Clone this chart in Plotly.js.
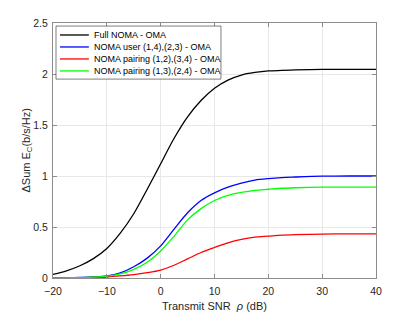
<!DOCTYPE html>
<html><head><meta charset="utf-8">
<script src="https://cdn.plot.ly/plotly-3.0.1.min.js"></script>
<style>html,body{margin:0;padding:0;background:#fff;}#chart{width:415px;height:312px;}</style>
</head><body><div id="chart"></div>
<script>
const snr = [-20,-17.5,-15,-12.5,-10,-7.5,-5,-2.5,0,2.5,5,7.5,10,12.5,15,17.5,20,22.5,25,30,35,40];
const fullNoma = [0.035,0.07,0.12,0.19,0.29,0.44,0.63,0.87,1.12,1.37,1.58,1.74,1.86,1.94,1.99,2.015,2.03,2.035,2.04,2.045,2.045,2.045];
const userPair = [0.0,0.002,0.005,0.01,0.02,0.05,0.11,0.195,0.315,0.48,0.64,0.76,0.835,0.89,0.93,0.96,0.975,0.985,0.99,0.998,1.0,1.0];
const pair1234 = [0.0,0.001,0.002,0.005,0.01,0.02,0.033,0.052,0.078,0.125,0.187,0.25,0.30,0.345,0.378,0.40,0.41,0.42,0.425,0.43,0.433,0.433];
const pair1324 = [0.0,0.002,0.004,0.009,0.018,0.04,0.085,0.155,0.265,0.41,0.57,0.68,0.76,0.81,0.84,0.86,0.87,0.88,0.885,0.89,0.89,0.89];
const names = ['Full NOMA - OMA','NOMA user (1,4),(2,3) - OMA','NOMA pairing (1,2),(3,4) - OMA','NOMA pairing (1,3),(2,4) - OMA'];
const series = [fullNoma, userPair, pair1234, pair1324];
const colors = ['#000000','#0000ff','#ff0000','#00ff00'];
const xTicks = [-20,-10,0,10,20,30,40];
const yTicks = [0,0.5,1,1.5,2,2.5];
const xTitle = 'Transmit SNR  <i>ρ</i> (dB)';
const yTitle = 'ΔSum E<sub>C</sub>(b/s/Hz)';

const traces = series.map((s,i)=>({x:snr,y:s,name:names[i],type:'scatter',mode:'lines',
  line:{color:colors[i],width:1.3,shape:'spline',smoothing:0.85}}));

const FONT = 'Liberation Sans, Arial, sans-serif';
const axisCommon = {showline:true,linecolor:'#8c8c8c',linewidth:1,mirror:'ticks',ticks:'inside',ticklen:4,
  tickcolor:'#8c8c8c',showgrid:true,gridcolor:'#e8e8e8',gridwidth:1,zeroline:false,
  tickfont:{family:FONT,size:10.5,color:'#262626'}};

// Legend drawn in paper coordinates (MATLAB-style compact legend)
const legX0 = 0.0093, legX1 = 0.520, legY0 = 0.780, legY1 = 0.988;
const rowY = [0.953, 0.906, 0.859, 0.812];
const lineX0 = 0.0217, lineX1 = 0.111, textX = 0.1207;
const shapes = [{type:'rect',xref:'paper',yref:'paper',x0:legX0,x1:legX1,y0:legY0,y1:legY1,
  line:{color:'#262626',width:0.6},fillcolor:'#ffffff',layer:'above'}];
const annotations = [];
names.forEach((n,i)=>{
  shapes.push({type:'line',xref:'paper',yref:'paper',x0:lineX0,x1:lineX1,y0:rowY[i],y1:rowY[i],
    line:{color:colors[i],width:1.3},layer:'above'});
  annotations.push({xref:'paper',yref:'paper',x:textX,y:rowY[i],xanchor:'left',yanchor:'middle',
    text:n,showarrow:false,font:{family:FONT,size:9,color:'#000'}});
});
// axis titles
annotations.push({xref:'paper',yref:'paper',x:0.5,y:0,xanchor:'center',yanchor:'top',yshift:-20,
  text:xTitle,showarrow:false,font:{family:FONT,size:11,color:'#262626'}});
annotations.push({xref:'paper',yref:'paper',x:0,y:0.5,xanchor:'center',yanchor:'middle',xshift:-27,
  textangle:-90,text:yTitle,showarrow:false,font:{family:FONT,size:11,color:'#262626'}});

const layout = {
  width:415,height:312,margin:{l:53,r:39,t:23,b:34},
  paper_bgcolor:'#fff',plot_bgcolor:'#fff',
  font:{family:FONT,color:'#262626'},
  showlegend:false,
  shapes:shapes, annotations:annotations,
  xaxis:Object.assign({},axisCommon,{range:[-20,40],tickvals:xTicks,ticklabelstandoff:3}),
  yaxis:Object.assign({},axisCommon,{range:[0,2.5],tickvals:yTicks,ticklabelstandoff:2})
};
Plotly.newPlot('chart',traces,layout,{displayModeBar:false,staticPlot:true});
</script></body></html>
